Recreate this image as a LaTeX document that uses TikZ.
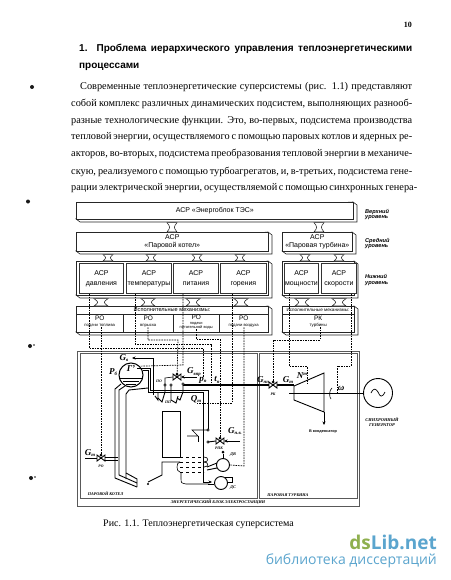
\documentclass[tikz,border=0pt]{standalone}
\usepackage{fontspec}
\setmainfont{Liberation Serif}
\setsansfont{Liberation Sans}
\newfontfamily\wmfont{Open Sans}
\usetikzlibrary{calc,arrows.meta}
\definecolor{wmgreen}{HTML}{8FB04F}
\definecolor{wmblue}{HTML}{5BA5CE}
\newcommand{\fsz}[1]{\fontsize{#1}{#1}\selectfont}
\newcommand{\gsub}[2]{#1\raisebox{-1.5pt}{\fsz{4.8}#2}}
\newcommand{\tbox}[6]{%
  \draw[boxline,fill=white] (#4,#3) -- (#4+4,#3+3) -- (#4+4,#5+3) -- (#2+4,#5+3) -- (#2,#5) -- cycle;
  \node[boxnode,minimum width={(#4-#2)*1pt},minimum height={(#5-#3)*1pt}] (#1) at (#2,#3) {#6};}
\newcommand{\busc}[4]{%
  \coordinate (ba) at ($(#1.south -| #3,0)+(0,3)$);
  \coordinate (bb) at (#2.north -| #3,0);
  \draw[busline,fill=white] ($(ba)+(-#4,0)$) .. controls ($(ba)!.5!(bb)+(-#4*.3,0)$) .. ($(bb)+(-#4,0)$) -- ($(bb)+(#4,0)$) .. controls ($(ba)!.5!(bb)+(#4*.3,0)$) .. ($(ba)+(#4,0)$) -- cycle;}
\newcommand{\valveh}[3]{%
  \coordinate (#1) at (#2,#3);
  \draw[pipe,fill=white] (#2-4,#3-3) -- (#2+4,#3+3) -- (#2+4,#3-3) -- (#2-4,#3+3) -- cycle;
  \fill (#2,#3-3) circle (1.5);}
\tikzset{
  boxline/.style={line width=0.6pt,black!85},
  boxnode/.style={draw=black!85,line width=0.6pt,fill=white,anchor=north west,inner sep=0pt,align=center,font=\sffamily\fsz{7}},
  cellnode/.style={draw=black!80,line width=0.9pt,fill=white,anchor=north west,inner sep=0pt,align=center,font=\sffamily\fsz{7}},
  actnode/.style={anchor=north west,inner sep=0pt,align=center,font=\sffamily\fsz{6.5}},
  busline/.style={line width=0.55pt,black!85},
  ctl/.style={line width=0.7pt,dash pattern=on 1.6pt off 1pt,black},
  pipe/.style={line width=0.9pt,black},
  thinpipe/.style={line width=0.6pt,black},
  frameline/.style={line width=0.6pt,black!65},
  lvl/.style={inner sep=0pt,align=left,anchor=west,font=\sffamily\bfseries\itshape\fsz{5.6}},
  sym/.style={inner sep=0pt,font=\bfseries\itshape\fsz{9}},
  tiny/.style={inner sep=0pt,font=\bfseries\itshape\fsz{3.8}},
  dotj/.style={circle,draw,fill=white,line width=0.5pt,inner sep=0pt,minimum size=2.4pt},
  arr/.style={-{Stealth[length=3.5pt,width=3pt]}},
  blob/.style={fill=black!90}
}
\begin{document}
\begin{tikzpicture}[x=1pt,y=-1pt]
\useasboundingbox (0,0) rectangle (450,580);
\fill[white] (0,0) rectangle (450,580);

% page text
\node[anchor=base east,inner sep=0pt,font=\bfseries\fsz{8}] (pageno) at (412,28) {10};
\node[anchor=base west,inner sep=0pt,font=\sffamily\bfseries\fsz{10}] (tt1) at (79,52) {\makebox[333pt][s]{1. Проблема иерархического управления теплоэнергетическими}};
\node[anchor=base west,inner sep=0pt,font=\sffamily\bfseries\fsz{10}] (tt2) at (79,69) {процессами};
\node[anchor=base west,inner sep=0pt,font=\fsz{10.3}] (l1) at (80,90) {\makebox[332pt][s]{Современные теплоэнергетические суперсистемы (рис. 1.1) представляют}};
\node[anchor=base west,inner sep=0pt,font=\fsz{10.3}] (l2) at (71,107) {\makebox[341pt][s]{собой комплекс различных динамических подсистем, выполняющих разнооб-}};
\node[anchor=base west,inner sep=0pt,font=\fsz{10.3}] (l3) at (71,123.5) {\makebox[341pt][s]{разные технологические функции. Это, во-первых, подсистема производства}};
\node[anchor=base west,inner sep=0pt,font=\fsz{10.3}] (l4) at (71,140) {\makebox[341pt][s]{тепловой энергии, осуществляемого с помощью паровых котлов и ядерных ре-}};
\node[anchor=base west,inner sep=0pt,font=\fsz{10.3}] (l5) at (71,157) {\makebox[341pt][s]{акторов, во-вторых, подсистема преобразования тепловой энергии в механиче-}};
\node[anchor=base west,inner sep=0pt,font=\fsz{10.3}] (l6) at (71,174) {\makebox[341pt][s]{скую, реализуемого с помощью турбоагрегатов, и, в-третьих, подсистема гене-}};
\node[anchor=base west,inner sep=0pt,font=\fsz{10.3}] (l7) at (71,190.5) {\makebox[341pt][s]{рации электрической энергии, осуществляемой с помощью синхронных генера-}};
\fill[blob] (32,87) circle (2);
\fill[blob] (28,201.5) circle (2);
\fill[blob] (30,346) circle (2) (34,345) circle (0.8);
\fill[blob] (31,478) circle (2) (35,477) circle (0.8);

% hierarchy boxes
\tbox{top}{76}{202}{353}{219}{АСР «Энергоблок ТЭС»}
\tbox{mb}{76}{232}{268}{251}{АСР\\[1pt]«Паровой котел»}
\tbox{mt}{282}{232}{352}{251}{АСР\\[1pt]«Паровая турбина»}
\tbox{lb}{76}{261}{268}{295}{}
\tbox{lt}{282}{261}{354}{295}{}
\tbox{ab}{76}{306}{268}{332}{}
\tbox{at}{282}{306}{354}{332}{}

\busc{top}{mb}{172}{5}
\busc{top}{mt}{319}{5}
\busc{mb}{lb}{108}{5}\busc{mb}{lb}{151}{5}\busc{mb}{lb}{197}{5}\busc{mb}{lb}{240}{5}
\busc{mt}{lt}{305}{5}\busc{mt}{lt}{339}{5}
\busc{lb}{ab}{101}{7}\busc{lb}{ab}{148}{7}\busc{lb}{ab}{193}{7}\busc{lb}{ab}{241}{7}
\busc{lt}{at}{302}{7}\busc{lt}{at}{339}{7}

\node[cellnode,minimum width=44pt,minimum height=30pt] (asrP) at (79,263) {АСР\\[3pt]давления};
\node[cellnode,minimum width=45pt,minimum height=30pt] (asrT) at (126,263) {АСР\\[3pt]температуры};
\node[cellnode,minimum width=45pt,minimum height=30pt] (asrF) at (173,263) {АСР\\[3pt]питания};
\node[cellnode,minimum width=46pt,minimum height=30pt] (asrG) at (220,263) {АСР\\[3pt]горения};
\node[cellnode,minimum width=34pt,minimum height=30pt] (asrM) at (284,263) {АСР\\[3pt]мощности};
\node[cellnode,minimum width=35pt,minimum height=30pt] (asrS) at (321,263) {АСР\\[3pt]скорости};

\draw[boxline] (76,314) -- (268,314) (282,314) -- (354,314);
\draw[boxline] (123,314) -- (123,332) (173,314) -- (173,332) (219,314) -- (219,332);
\node[inner sep=0pt,font=\sffamily\fsz{5.6}] (am1) at (172,310) {Исполнительные механизмы:};
\node[inner sep=0pt,font=\sffamily\fsz{4.6}] (am2) at (318,310) {Исполнительные механизмы:};
\node[actnode,minimum width=47pt] (roT) at (76,316) {РО\\[-1pt]{\fsz{4.2}подачи топлива}};
\node[actnode,minimum width=50pt] (roV) at (123,316) {РО\\[-1pt]{\fsz{4.2}впрыска}};
\node[actnode,minimum width=46pt] (roF) at (173,314.5) {РО\\[-1.5pt]{\fsz{3.9}подачи}\\[-2.5pt]{\fsz{3.9}питательной воды}};
\node[actnode,minimum width=49pt] (roA) at (219,316) {РО\\[-1pt]{\fsz{4.2}подачи воздуха}};
\node[actnode,minimum width=72pt] (rkT) at (282,316) {РК\\[-1pt]{\fsz{4.4}турбины}};

\node[lvl] (lv1) at (365,214.5) {Верхний\\уровень};
\node[lvl] (lv2) at (365,243.5) {Средний\\уровень};
\node[lvl] (lv3) at (365,280) {Нижний\\уровень};

% frames
\draw[frameline] (77,351) rectangle (359,506);
\draw[frameline] (80,353) rectangle (257,498);
\draw[frameline] (259,353) rectangle (357,498);
\node[inner sep=0pt,font=\bfseries\itshape\fsz{4.2}] (fb) at (105.5,494) {ПАРОВОЙ КОТЕЛ};
\node[inner sep=0pt,font=\bfseries\itshape\fsz{4.2}] (fe) at (218,502) {ЭНЕРГЕТИЧЕСКИЙ БЛОК ЭЛЕКТРОСТАНЦИИ};
\node[inner sep=0pt,font=\bfseries\itshape\fsz{4.2}] (ft) at (288,495) {ПАРОВАЯ ТУРБИНА};

% boiler drum
\node[circle,draw,line width=1pt,minimum size=24pt,inner sep=0pt] (drum) at (131,375) {};
\draw[thinpipe] (120,378) -- (142,378) (123,381) -- (139,381) (126,384) -- (136,384);
\node[sym] (gl) at (131,369) {Гʼ};
\node[sym] (Pb) at (113,372) {\gsub{P}{б}};
\node[sym] (Gv) at (124,358) {\gsub{G}{в}};
% feed, steam
\draw[pipe,arr] (153,395) -- (153,358) -- (132,358);
\draw[pipe] (143,370) -- (148,370) -- (148,392) -- (203,392);
\draw[pipe] (137,368) -- (150,368) -- (150,390) -- (208,390) -- (208,430);
\draw[line width=1.1pt] (183,385) -- (294,385);
% superheaters
\draw[pipe] (158,392) -- (158,400) -- (155,396);
\draw[pipe] (165,385) -- (165,392) -- (162,402) -- (158,398);
\draw[pipe] (171,385) -- (171,392) -- (171,400) -- (176,403) -- (178,396);
\draw[pipe] (183,385) -- (183,392) -- (180,400) -- (177,398);
\node[dotj] (j1) at (165,385) {};
\node[dotj] (j2) at (171,385) {};
\node[dotj] (j3) at (183,384) {};
\node[tiny] (pp) at (168,402) {ПП};
\node[tiny] (po) at (159,381) {ПО};
% furnace walls
\draw[pipe] (121,384) -- (115,389) -- (115,478) -- (137,487);
\draw[pipe] (125,386) -- (119,390) -- (119,475) -- (137,483);
\draw[pipe] (126,479) -- (126,394) -- (129,390) -- (148,388);
\draw[pipe] (126,473) -- (137,479) -- (137,487);
\draw[thinpipe] (203,392) -- (203,482);
% inner block
\draw[pipe] (162,457) -- (162,411) -- (180,411) -- (180,457) -- cycle;
\draw[pipe] (180,462) -- (162,462) -- (162,475) -- (148,482);
\fill (148,484) circle (1.2);
\draw[thinpipe,dashed] (180,457) -- (204,457) (180,462) -- (204,462) (180,467) -- (204,467) (180,472) -- (204,472);
\draw[thinpipe] (204,457) .. controls (209,457) and (209,462) .. (204,462);
\draw[thinpipe] (204,462) .. controls (209,462) and (209,467) .. (204,467);
\draw[thinpipe] (180,462) .. controls (176,462) and (176,472) .. (180,472);
\draw[thinpipe] (181,472) -- (181,478) .. controls (181,483) .. (186,484) -- (208,484);
% RO valve and fuel
\valveh{vRO}{101}{458}
\node[sym] (Gt) at (90,453) {\gsub{G}{т}};
\draw[pipe] (85,458) -- (97,458);
\draw[pipe] (105,457) -- (118,457) (105,460) -- (118,460);
\node[tiny] (rol) at (101,466) {РО};
% PO valve
\valveh{vPO}{177}{377}
\draw[pipe,arr] (197,377) -- (181,377);
\draw[thinpipe] (173,377) -- (165,378) -- (165,385);
\node[sym] (Gvp) at (194,372) {\gsub{G}{впр}};
\node[sym] (pM) at (203,380) {\gsub{p}{п}};
\node[sym] (tM) at (217,380) {\gsub{t}{п}};
\node[sym] (Qt) at (196,399) {\gsub{Q}{т}};
% economiser, RPK
\node[dotj] (j4) at (208,430) {};
\node[dotj] (j5) at (208,442) {};
\draw[thinpipe] (208,430) -- (192,430) -- (198,436) -- (187,436);
\draw[pipe] (198,436) -- (198,442) ;
\valveh{vRPK}{220}{441}
\draw[pipe] (208,442) -- (216,441);
\draw[pipe,arr] (240,441) -- (224,441);
\node[sym] (Gpv) at (235,431) {\gsub{G}{п.в.}};
\node[tiny] (rpk) at (219,448) {РПК};
% fans
\node[circle,draw,line width=0.9pt,minimum size=13pt,inner sep=0pt] (dv) at (223,465) {};
\node[circle,draw,line width=0.9pt,minimum size=13pt,inner sep=0pt] (ds) at (221,483) {};
\draw[pipe] (217,463) -- (207,467) (217,468) -- (207,470);
\draw[pipe] (223,454) -- (223,458);
\fill (223,452) circle (1.5);
\draw[pipe] (208,484) -- (214,484);
\draw[pipe,arr] (203,482) -- (212,482);
\draw[pipe] (225,477) -- (232,477) -- (232,482) -- (227,482);
\node[tiny,font=\bfseries\itshape\fsz{4.2}] (dvl) at (233,455) {ДВ};
\node[tiny,font=\bfseries\itshape\fsz{4.2}] (dsl) at (233,488) {ДС};

% turbine
\draw[pipe] (294,386) -- (324,373) -- (324,412) -- (294,400) -- cycle;
\node[circle,draw,line width=0.9pt,minimum size=29pt,inner sep=0pt] (gen) at (378,393) {};
\draw[line width=0.7pt] (371,393) .. controls (374,387) and (376,389) .. (378,392) .. controls (380,397) and (382,398) .. (385,392);
\draw[line width=1pt] (289,393) -- (gen.west);
\draw[thinpipe] (332,388) .. controls (329,390) and (329,397) .. (331,399);
\draw[thinpipe,arr] (324,412) -- (324,425);
\node[inner sep=0pt,font=\sffamily\bfseries\fsz{3.8}] (cnd) at (323,432) {В конденсатор};
\valveh{vRK}{273}{385}
\node[sym] (Gpp) at (263,380) {\gsub{G}{пп}};
\node[sym] (Gtt) at (288,380) {\gsub{G}{т}};
\node[sym] (Nt) at (302,376) {N\raisebox{3pt}{\fsz{4.8}т}};
\node[sym] (om) at (341,388) {ω};
\node[tiny] (rkl) at (273,394) {РК};
\node[inner sep=0pt,align=center,font=\bfseries\itshape\fsz{4.4}] (genl) at (382,422) {СИНХРОННЫЙ\\[1pt]ГЕНЕРАТОР};

% control lines
\draw[ctl] (asrP.south -| 89,0) -- (89,348) -- (203,348) -- (pM);
\draw[ctl] (roT.south -| 101,0) -- (vRO);
\draw[ctl] (asrT.south -| 135,0) -- (135,344) -- (211,344) -- (211,384);
\draw[ctl] (roV.south -| 148,0) -- (148,340) -- (178,340) -- (vPO);
\draw[ctl] (asrF.south -| 183,0) -- (183,365) -- (drum.north east);
\draw[ctl] (roF.south -| 196,0) -- (196,339) -- (220,339) -- (vRPK);
\draw[ctl] (asrG.south -| 232,0) -- (232,403) -- (196,403);
\draw[ctl] (roA.south -| 244,0) -- (244,466) -- (dv.east);
\draw[ctl] (rkT.south -| 320,0) -- (320,340) -- (273,340) -- (vRK);
\draw[ctl] (asrM.south -| 289,0) -- (289,366) -- (307,366) -- (307,384);
\draw[ctl] (asrS.south -| 351,0) -- (351,366) -- (337,366) -- (337,392);

% caption & watermark
\node[anchor=base west,inner sep=0pt,font=\fsz{10}] (cap) at (103,526) {Рис. 1.1. Теплоэнергетическая суперсистема};
\node[anchor=base east,inner sep=0pt,font=\wmfont\bfseries\fsz{19}] (wm) at (437,549) {\textcolor{wmgreen}{ds}\textcolor{wmblue}{Lib.net}};
\node[anchor=base east,inner sep=0pt,font=\wmfont\fsz{14}\color{wmblue}] (wm2) at (437,564) {библиотека диссертаций};
\end{tikzpicture}
\end{document}
